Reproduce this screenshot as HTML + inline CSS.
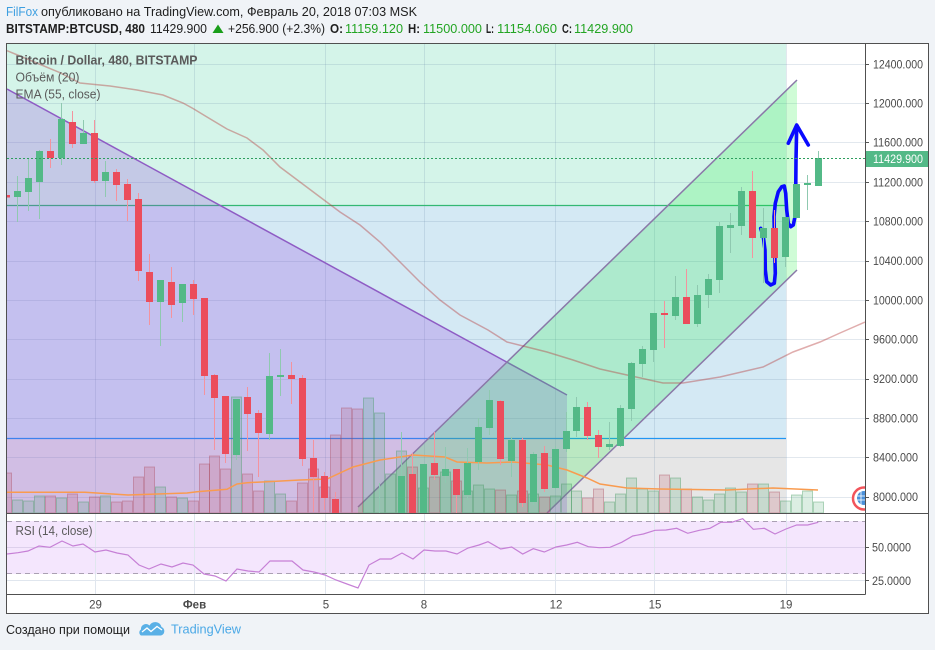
<!DOCTYPE html>
<html><head><meta charset="utf-8"><style>
html,body{margin:0;padding:0;background:#f0f3f7;}
svg{display:block;font-family:"Liberation Sans","Noto Sans CJK JP",sans-serif;}
.g{fill:#53b987}.r{fill:#eb4d5c}.gw{fill:#8fc9b0}.rw{fill:#f4939e}
.vg{fill:rgba(60,160,100,0.18);stroke:rgba(60,150,90,0.38);stroke-width:1}
.vr{fill:rgba(190,70,90,0.18);stroke:rgba(170,70,90,0.38);stroke-width:1}
.pl{font-size:11.5px;fill:#4a4a4a}
.tl{font-size:11.5px;fill:#4a4a4a;text-anchor:middle}
</style></head><body>
<svg width="935" height="650" viewBox="0 0 935 650" xmlns="http://www.w3.org/2000/svg">
<defs>
<clipPath id="mp"><rect x="7" y="44" width="858" height="469"/></clipPath>
<clipPath id="rp"><rect x="7" y="514" width="858" height="80"/></clipPath>
</defs>
<rect width="935" height="650" fill="#f0f3f7"/>
<!-- header -->
<text x="6" y="16" font-size="13" fill="#3d9fe0" textLength="32" lengthAdjust="spacingAndGlyphs">FilFox</text>
<text x="41" y="16" font-size="13" fill="#1e1e1e" textLength="376" lengthAdjust="spacingAndGlyphs">опубликовано на TradingView.com, Февраль 20, 2018 07:03 MSK</text>
<text x="6" y="33" font-size="13" font-weight="bold" fill="#1e1e1e" textLength="139" lengthAdjust="spacingAndGlyphs">BITSTAMP:BTCUSD, 480</text>
<text x="150" y="33" font-size="13" fill="#1e1e1e" textLength="57" lengthAdjust="spacingAndGlyphs">11429.900</text>
<polygon points="212.5,33 223.5,33 218,24.5" fill="#1a9e1a"/>
<text x="228" y="33" font-size="13" fill="#1e1e1e" textLength="97" lengthAdjust="spacingAndGlyphs">+256.900 (+2.3%)</text>
<text x="330" y="33" font-size="13" font-weight="bold" fill="#1e1e1e" textLength="13" lengthAdjust="spacingAndGlyphs">O:</text>
<text x="345" y="33" font-size="13" fill="#23a523" textLength="58" lengthAdjust="spacingAndGlyphs">11159.120</text>
<text x="408" y="33" font-size="13" font-weight="bold" fill="#1e1e1e" textLength="12" lengthAdjust="spacingAndGlyphs">H:</text>
<text x="423" y="33" font-size="13" fill="#23a523" textLength="59" lengthAdjust="spacingAndGlyphs">11500.000</text>
<text x="486" y="33" font-size="13" font-weight="bold" fill="#1e1e1e" textLength="8" lengthAdjust="spacingAndGlyphs">L:</text>
<text x="497" y="33" font-size="13" fill="#23a523" textLength="60" lengthAdjust="spacingAndGlyphs">11154.060</text>
<text x="562" y="33" font-size="13" font-weight="bold" fill="#1e1e1e" textLength="10" lengthAdjust="spacingAndGlyphs">C:</text>
<text x="574" y="33" font-size="13" fill="#23a523" textLength="59" lengthAdjust="spacingAndGlyphs">11429.900</text>

<!-- chart frame -->
<rect x="6.5" y="43.5" width="922" height="570" fill="#ffffff"/>

<g clip-path="url(#mp)">
<rect x="7" y="43" width="779" height="162" fill="#d4f4e9"/>
<rect x="7" y="205" width="779" height="233" fill="#d4e9f4"/>
<rect x="7" y="438" width="779" height="75" fill="#e6e6e6"/>
<!-- grid -->
<g stroke="rgba(110,140,170,0.2)" stroke-width="1">
<line x1="7" y1="64.5" x2="865" y2="64.5"/><line x1="7" y1="103.5" x2="865" y2="103.5"/><line x1="7" y1="142.5" x2="865" y2="142.5"/><line x1="7" y1="182.5" x2="865" y2="182.5"/><line x1="7" y1="221.5" x2="865" y2="221.5"/><line x1="7" y1="261.5" x2="865" y2="261.5"/><line x1="7" y1="300.5" x2="865" y2="300.5"/><line x1="7" y1="339.5" x2="865" y2="339.5"/><line x1="7" y1="379.5" x2="865" y2="379.5"/><line x1="7" y1="418.5" x2="865" y2="418.5"/><line x1="7" y1="457.5" x2="865" y2="457.5"/><line x1="7" y1="497.5" x2="865" y2="497.5"/>
<line x1="95.5" y1="43" x2="95.5" y2="513"/><line x1="194.5" y1="43" x2="194.5" y2="513"/><line x1="325.5" y1="43" x2="325.5" y2="513"/><line x1="424.5" y1="43" x2="424.5" y2="513"/><line x1="555.5" y1="43" x2="555.5" y2="513"/><line x1="654.5" y1="43" x2="654.5" y2="513"/><line x1="786.5" y1="43" x2="786.5" y2="513"/>
</g>
<line x1="7" y1="205.5" x2="786" y2="205.5" stroke="#33b873" stroke-width="1.2"/>
<line x1="7" y1="438.5" x2="786" y2="438.5" stroke="#2196f3" stroke-width="1.2"/>
<!-- triangle -->
<polygon points="7,89 567,395 567,513 7,513" fill="rgba(147,71,224,0.25)"/>
<line x1="7" y1="89" x2="567" y2="395" stroke="#8e5cc4" stroke-width="1.5"/>
<!-- channel -->
<polygon points="358,507 797,80 797,270 547,513 358,513" fill="rgba(30,240,60,0.21)"/>
<line x1="358" y1="507" x2="797" y2="80" stroke="#8a78a8" stroke-width="1.5"/>
<line x1="547" y1="513" x2="797" y2="270" stroke="#8a78a8" stroke-width="1.5"/>

<!-- volume -->
<g>
<rect class="vr" x="1.5" y="473" width="10" height="40"/>
<rect class="vg" x="12.5" y="500" width="10" height="13"/>
<rect class="vg" x="23.5" y="501" width="10" height="12"/>
<rect class="vg" x="34.5" y="496" width="10" height="17"/>
<rect class="vr" x="45.5" y="496" width="10" height="17"/>
<rect class="vg" x="56.5" y="498" width="10" height="15"/>
<rect class="vr" x="67.5" y="494" width="10" height="19"/>
<rect class="vg" x="78.5" y="502" width="10" height="11"/>
<rect class="vr" x="89.5" y="497" width="10" height="16"/>
<rect class="vg" x="100.5" y="496" width="10" height="17"/>
<rect class="vr" x="111.5" y="502" width="10" height="11"/>
<rect class="vr" x="122.5" y="501" width="10" height="12"/>
<rect class="vr" x="133.5" y="477" width="10" height="36"/>
<rect class="vr" x="144.5" y="467" width="10" height="46"/>
<rect class="vg" x="155.5" y="487" width="10" height="26"/>
<rect class="vr" x="166.5" y="497" width="10" height="16"/>
<rect class="vg" x="177.5" y="498" width="10" height="15"/>
<rect class="vr" x="188.5" y="501" width="10" height="12"/>
<rect class="vr" x="199.5" y="464" width="10" height="49"/>
<rect class="vr" x="209.5" y="456" width="10" height="57"/>
<rect class="vr" x="220.5" y="469" width="10" height="44"/>
<rect class="vg" x="231.5" y="397" width="10" height="116"/>
<rect class="vr" x="242.5" y="474" width="10" height="39"/>
<rect class="vr" x="253.5" y="491" width="10" height="22"/>
<rect class="vg" x="264.5" y="481" width="10" height="32"/>
<rect class="vg" x="275.5" y="494" width="10" height="19"/>
<rect class="vr" x="286.5" y="501" width="10" height="12"/>
<rect class="vr" x="297.5" y="483" width="10" height="30"/>
<rect class="vr" x="308.5" y="469" width="10" height="44"/>
<rect class="vr" x="319.5" y="487" width="10" height="26"/>
<rect class="vr" x="330.5" y="435" width="10" height="78"/>
<rect class="vr" x="341.5" y="408" width="10" height="105"/>
<rect class="vr" x="352.5" y="409" width="10" height="104"/>
<rect class="vg" x="363.5" y="398" width="10" height="115"/>
<rect class="vg" x="374.5" y="413" width="10" height="100"/>
<rect class="vg" x="385.5" y="474" width="10" height="39"/>
<rect class="vg" x="396.5" y="451" width="10" height="62"/>
<rect class="vr" x="407.5" y="467" width="10" height="46"/>
<rect class="vg" x="418.5" y="488" width="10" height="25"/>
<rect class="vr" x="429.5" y="477" width="10" height="36"/>
<rect class="vg" x="440.5" y="472" width="10" height="41"/>
<rect class="vr" x="451.5" y="481" width="10" height="32"/>
<rect class="vg" x="462.5" y="491" width="10" height="22"/>
<rect class="vg" x="473.5" y="485" width="10" height="28"/>
<rect class="vg" x="484.5" y="489" width="10" height="24"/>
<rect class="vr" x="495.5" y="490" width="10" height="23"/>
<rect class="vg" x="506.5" y="495" width="10" height="18"/>
<rect class="vr" x="517.5" y="491" width="10" height="22"/>
<rect class="vg" x="528.5" y="494" width="10" height="19"/>
<rect class="vr" x="539.5" y="497" width="10" height="16"/>
<rect class="vg" x="550.5" y="496" width="10" height="17"/>
<rect class="vg" x="561.5" y="484" width="10" height="29"/>
<rect class="vg" x="571.5" y="491" width="10" height="22"/>
<rect class="vr" x="582.5" y="498" width="10" height="15"/>
<rect class="vr" x="593.5" y="489" width="10" height="24"/>
<rect class="vg" x="604.5" y="502" width="10" height="11"/>
<rect class="vg" x="615.5" y="494" width="10" height="19"/>
<rect class="vg" x="626.5" y="478" width="10" height="35"/>
<rect class="vg" x="637.5" y="489" width="10" height="24"/>
<rect class="vg" x="648.5" y="491" width="10" height="22"/>
<rect class="vr" x="659.5" y="475" width="10" height="38"/>
<rect class="vg" x="670.5" y="478" width="10" height="35"/>
<rect class="vr" x="681.5" y="489" width="10" height="24"/>
<rect class="vg" x="692.5" y="497" width="10" height="16"/>
<rect class="vg" x="703.5" y="500" width="10" height="13"/>
<rect class="vg" x="714.5" y="494" width="10" height="19"/>
<rect class="vg" x="725.5" y="488" width="10" height="25"/>
<rect class="vg" x="736.5" y="492" width="10" height="21"/>
<rect class="vr" x="747.5" y="484" width="10" height="29"/>
<rect class="vg" x="758.5" y="484" width="10" height="29"/>
<rect class="vr" x="769.5" y="492" width="10" height="21"/>
<rect class="vg" x="780.5" y="501" width="10" height="12"/>
<rect class="vg" x="791.5" y="495" width="10" height="18"/>
<rect class="vg" x="802.5" y="491" width="10" height="22"/>
<rect class="vg" x="813.5" y="502" width="10" height="11"/>
</g>
<!-- volume MA -->
<polyline fill="none" stroke="#f99b4f" stroke-width="1.5" points="7,492.3 85,492.3 128,495 187,493 197,491.7 227,489.3 237,484 247,482.7 267,481.7 300,480 327,479 353,467 380,460 413,455 445,457 457,462 487,463 513,462 547,465 567,470 587,478 600,484 627,488 660,489 727,490 773,488 818,490"/>
<!-- EMA -->
<polyline fill="none" stroke="rgba(180,60,60,0.42)" stroke-width="1.5" points="7,50.7 20,56 60,72.7 80,83 110,86 137,90 163,95 183,103 193,108.5 207,117 227,129 247,138 263,150 280,167 300,182 320,197 340,212 360,225 380,242 400,262 420,282 440,300 460,315 488,330 507,342 527,347 547,352 573,360 600,369 627,375 663,383 683,383 720,377 763,367 793,352 820,342 840,333 865,322"/>

<!-- blue hand drawing -->
<g fill="none" stroke="#0a0aff" stroke-width="3.6" stroke-linecap="round" stroke-linejoin="round">
<path d="M760.7,228.3 L763.3,236.7 L765,250 L765.3,270 L766.7,281.7 L770.7,285 L774.3,283.3 L775.3,273.3 L774.7,250 L774,216.7 L775.3,203.3 L778.3,191.7 L781.7,186.7 L784.3,186 L785.7,193.3 L786.7,210 L788.3,223.3 L790.7,226.7 L793.3,225 L795,216.7 L795.7,193.3 L796,160 L796.7,126.7"/>
<path d="M788.3,143.3 L796.7,125 L808.3,145"/>
</g>

<!-- candles -->
<g>
<rect class="r" x="3" y="195" width="7" height="2.5"/>
<rect class="gw" x="17" y="176" width="1" height="46"/><rect class="g" x="14" y="191" width="7" height="6"/>
<rect class="gw" x="28" y="159" width="1" height="52"/><rect class="g" x="25" y="178" width="7" height="14"/>
<rect class="gw" x="39" y="150" width="1" height="69"/><rect class="g" x="36" y="151" width="7" height="31"/>
<rect class="rw" x="50" y="139" width="1" height="29"/><rect class="r" x="47" y="151" width="7" height="7"/>
<rect class="gw" x="61" y="103" width="1" height="62"/><rect class="g" x="58" y="119" width="7" height="39"/>
<rect class="rw" x="72" y="111" width="1" height="37"/><rect class="r" x="69" y="122" width="7" height="22"/>
<rect class="gw" x="83" y="120" width="1" height="24"/><rect class="g" x="80" y="133" width="7" height="11"/>
<rect class="rw" x="94" y="120" width="1" height="63"/><rect class="r" x="91" y="133" width="7" height="48"/>
<rect class="gw" x="105" y="161" width="1" height="36"/><rect class="g" x="102" y="172" width="7" height="9"/>
<rect class="rw" x="116" y="169" width="1" height="32"/><rect class="r" x="113" y="172" width="7" height="13"/>
<rect class="rw" x="127" y="179" width="1" height="42"/><rect class="r" x="124" y="184" width="7" height="16"/>
<rect class="rw" x="138" y="193" width="1" height="88"/><rect class="r" x="135" y="199" width="7" height="72"/>
<rect class="rw" x="149" y="254" width="1" height="71"/><rect class="r" x="146" y="272" width="7" height="30"/>
<rect class="gw" x="160" y="280" width="1" height="66"/><rect class="g" x="157" y="280" width="7" height="22"/>
<rect class="rw" x="171" y="267" width="1" height="51"/><rect class="r" x="168" y="282" width="7" height="23"/>
<rect class="gw" x="182" y="284" width="1" height="38"/><rect class="g" x="179" y="284" width="7" height="19"/>
<rect class="rw" x="193" y="280" width="1" height="35"/><rect class="r" x="190" y="284" width="7" height="15"/>
<rect class="rw" x="204" y="298" width="1" height="97"/><rect class="r" x="201" y="298" width="7" height="78"/>
<rect class="rw" x="214" y="374" width="1" height="76"/><rect class="r" x="211" y="375" width="7" height="23"/>
<rect class="rw" x="225" y="396" width="1" height="67"/><rect class="r" x="222" y="396" width="7" height="58"/>
<rect class="gw" x="236" y="399" width="1" height="61"/><rect class="g" x="233" y="399" width="7" height="56"/>
<rect class="rw" x="247" y="387" width="1" height="64"/><rect class="r" x="244" y="397" width="7" height="17"/>
<rect class="rw" x="258" y="410" width="1" height="67"/><rect class="r" x="255" y="413" width="7" height="20"/>
<rect class="gw" x="269" y="353" width="1" height="87"/><rect class="g" x="266" y="376" width="7" height="58"/>
<rect class="gw" x="280" y="349" width="1" height="47"/><rect class="g" x="277" y="375" width="7" height="2"/>
<rect class="rw" x="291" y="362" width="1" height="42"/><rect class="r" x="288" y="375" width="7" height="4"/>
<rect class="rw" x="302" y="375" width="1" height="91"/><rect class="r" x="299" y="378" width="7" height="81"/>
<rect class="rw" x="313" y="440" width="1" height="72"/><rect class="r" x="310" y="458" width="7" height="19"/>
<rect class="rw" x="324" y="472" width="1" height="38"/><rect class="r" x="321" y="476" width="7" height="22"/>
<rect class="rw" x="335" y="492" width="1" height="21"/><rect class="r" x="332" y="499" width="7" height="14"/>
<rect class="gw" x="379" y="483" width="1" height="30"/>
<rect class="gw" x="401" y="432" width="1" height="81"/><rect class="g" x="398" y="476" width="7" height="37"/>
<rect class="rw" x="412" y="453" width="1" height="60"/><rect class="r" x="409" y="474" width="7" height="39"/>
<rect class="g" x="420" y="464" width="7" height="49"/>
<rect class="rw" x="434" y="432" width="1" height="48"/><rect class="r" x="431" y="463" width="7" height="12"/>
<rect class="gw" x="445" y="447" width="1" height="36"/><rect class="g" x="442" y="469" width="7" height="7"/>
<rect class="rw" x="456" y="469" width="1" height="44"/><rect class="r" x="453" y="469" width="7" height="26"/>
<rect class="gw" x="467" y="448" width="1" height="52"/><rect class="g" x="464" y="463" width="7" height="32"/>
<rect class="gw" x="478" y="418" width="1" height="52"/><rect class="g" x="475" y="427" width="7" height="35"/>
<rect class="gw" x="489" y="390" width="1" height="45"/><rect class="g" x="486" y="400" width="7" height="28"/>
<rect class="rw" x="500" y="400" width="1" height="65"/><rect class="r" x="497" y="401" width="7" height="58"/>
<rect class="gw" x="511" y="437" width="1" height="40"/><rect class="g" x="508" y="440" width="7" height="21"/>
<rect class="rw" x="522" y="438" width="1" height="69"/><rect class="r" x="519" y="440" width="7" height="63"/>
<rect class="gw" x="533" y="452" width="1" height="53"/><rect class="g" x="530" y="454" width="7" height="48"/>
<rect class="rw" x="544" y="446" width="1" height="46"/><rect class="r" x="541" y="453" width="7" height="36"/>
<rect class="gw" x="555" y="446" width="1" height="44"/><rect class="g" x="552" y="449" width="7" height="39"/>
<rect class="gw" x="566" y="412" width="1" height="40"/><rect class="g" x="563" y="431" width="7" height="18"/>
<rect class="gw" x="576" y="397" width="1" height="40"/><rect class="g" x="573" y="407" width="7" height="24"/>
<rect class="rw" x="587" y="402" width="1" height="38"/><rect class="r" x="584" y="407" width="7" height="29"/>
<rect class="rw" x="598" y="430" width="1" height="28"/><rect class="r" x="595" y="435" width="7" height="12"/>
<rect class="gw" x="609" y="422" width="1" height="28"/><rect class="g" x="606" y="444" width="7" height="3"/>
<rect class="gw" x="620" y="405" width="1" height="42"/><rect class="g" x="617" y="408" width="7" height="38"/>
<rect class="gw" x="631" y="362" width="1" height="59"/><rect class="g" x="628" y="363" width="7" height="46"/>
<rect class="gw" x="642" y="346" width="1" height="31"/><rect class="g" x="639" y="349" width="7" height="15"/>
<rect class="gw" x="653" y="313" width="1" height="49"/><rect class="g" x="650" y="313" width="7" height="37"/>
<rect class="rw" x="664" y="301" width="1" height="47"/><rect class="r" x="661" y="313" width="7" height="2"/>
<rect class="gw" x="675" y="276" width="1" height="44"/><rect class="g" x="672" y="297" width="7" height="19"/>
<rect class="rw" x="686" y="269" width="1" height="55"/><rect class="r" x="683" y="297" width="7" height="27"/>
<rect class="gw" x="697" y="285" width="1" height="42"/><rect class="g" x="694" y="295" width="7" height="29"/>
<rect class="gw" x="708" y="274" width="1" height="34"/><rect class="g" x="705" y="279" width="7" height="16"/>
<rect class="gw" x="719" y="222" width="1" height="71"/><rect class="g" x="716" y="226" width="7" height="54"/>
<rect class="gw" x="730" y="213" width="1" height="40"/><rect class="g" x="727" y="225" width="7" height="3"/>
<rect class="gw" x="741" y="187" width="1" height="48"/><rect class="g" x="738" y="191" width="7" height="35"/>
<rect class="rw" x="752" y="171" width="1" height="87"/><rect class="r" x="749" y="191" width="7" height="47"/>
<rect class="gw" x="763" y="208" width="1" height="75"/><rect class="g" x="760" y="228" width="7" height="10"/>
<rect class="rw" x="774" y="210" width="1" height="53"/><rect class="r" x="771" y="228" width="7" height="30"/>
<rect class="gw" x="785" y="217" width="1" height="50"/><rect class="g" x="782" y="217" width="7" height="40"/>
<rect class="g" x="793" y="184" width="7" height="34"/>
<rect class="gw" x="807" y="175" width="1" height="35"/><rect class="g" x="804" y="183" width="7" height="2"/>
<rect class="gw" x="818" y="151" width="1" height="35"/><rect class="g" x="815" y="158" width="7" height="28"/>
</g>

<!-- current price line -->
<line x1="7" y1="158.5" x2="865" y2="158.5" stroke="#2e9e5e" stroke-width="1" stroke-dasharray="2,2"/>
<!-- globe icon -->
<circle cx="864" cy="498.5" r="11" fill="#ffffff" stroke="#f2545b" stroke-width="2.5"/>
<circle cx="864" cy="498" r="7" fill="#4a90d9"/>
<g stroke="#ffffff" stroke-width="0.8"><line x1="857" y1="496" x2="865" y2="496"/><line x1="857" y1="500" x2="865" y2="500"/><line x1="861" y1="491" x2="861" y2="505"/></g>
</g>

<!-- legend -->
<text x="15.5" y="64.5" font-size="12.5" font-weight="bold" fill="#5a5a5a" textLength="182" lengthAdjust="spacingAndGlyphs">Bitcoin / Dollar, 480, BITSTAMP</text>
<text x="15.5" y="81.5" font-size="12.5" fill="#5a5a5a" textLength="64" lengthAdjust="spacingAndGlyphs">Объём (20)</text>
<text x="15.5" y="98.5" font-size="12.5" fill="#5a5a5a" textLength="85" lengthAdjust="spacingAndGlyphs">EMA (55, close)</text>

<!-- RSI pane -->
<g clip-path="url(#rp)">
<rect x="7" y="521" width="858" height="53" fill="#f4e6fd"/>
<g stroke="#e0e6ee" stroke-width="1">
<line x1="7" y1="580.5" x2="865" y2="580.5"/>
<line x1="95.5" y1="514" x2="95.5" y2="594"/><line x1="194.5" y1="514" x2="194.5" y2="594"/><line x1="325.5" y1="514" x2="325.5" y2="594"/><line x1="424.5" y1="514" x2="424.5" y2="594"/><line x1="555.5" y1="514" x2="555.5" y2="594"/><line x1="654.5" y1="514" x2="654.5" y2="594"/><line x1="786.5" y1="514" x2="786.5" y2="594"/>
</g>
<line x1="7" y1="547.5" x2="865" y2="547.5" stroke="#ddd0ec" stroke-width="1"/>
<line x1="7" y1="521.5" x2="865" y2="521.5" stroke="#aaa0b3" stroke-width="1" stroke-dasharray="5,4"/>
<line x1="7" y1="573.5" x2="865" y2="573.5" stroke="#aaa0b3" stroke-width="1" stroke-dasharray="5,4"/>
<polyline fill="none" stroke="#c680d6" stroke-width="1.2" points="7,554 18,552.7 28,551 39,546 50,547.3 62,541 73,546 83,544 95,552 106,550 117,553 128,555 139,565 149,569 161,564 172,567 183,563 193,565 204,574 215,576 226,581 237,569 248,571 259,572 270,561 281,561 292,561 303,570 314,572 325,575 336,580 347,584 358,588 369,565 380,559 391,559 402,553 413,559 424,550 435,551 446,551 457,554 468,548 479,545 488,541.7 500.7,549 511.7,547 522.7,554 533.3,548.7 544.3,552 556,547 566.7,545 577.3,542.3 588.3,546.7 599.3,547.7 610,547.3 621.7,542.3 632.7,536 643.3,534 655,530.3 666,530 676.7,528.3 687.7,533.3 699.3,530.3 710,528.3 720.7,522.3 731.7,522.3 742.7,518.7 753.3,529.3 764.3,528.3 775,534 786,529 796.7,525 807.7,525 818.3,522.3"/>
</g>
<text x="15.5" y="535" font-size="12.5" fill="#5a5a5a" textLength="77" lengthAdjust="spacingAndGlyphs">RSI (14, close)</text>

<!-- price axis -->
<g stroke="#555" stroke-width="1">
<line x1="865" y1="64.5" x2="869" y2="64.5"/><line x1="865" y1="103.5" x2="869" y2="103.5"/><line x1="865" y1="142.5" x2="869" y2="142.5"/><line x1="865" y1="182.5" x2="869" y2="182.5"/><line x1="865" y1="221.5" x2="869" y2="221.5"/><line x1="865" y1="261.5" x2="869" y2="261.5"/><line x1="865" y1="300.5" x2="869" y2="300.5"/><line x1="865" y1="339.5" x2="869" y2="339.5"/><line x1="865" y1="379.5" x2="869" y2="379.5"/><line x1="865" y1="418.5" x2="869" y2="418.5"/><line x1="865" y1="457.5" x2="869" y2="457.5"/><line x1="865" y1="497.5" x2="869" y2="497.5"/>
<line x1="865" y1="547.5" x2="869" y2="547.5"/><line x1="865" y1="580.5" x2="869" y2="580.5"/>
</g>
<g class="pl">
<text x="873" y="68.5" textLength="50" lengthAdjust="spacingAndGlyphs">12400.000</text>
<text x="873" y="107.5" textLength="50" lengthAdjust="spacingAndGlyphs">12000.000</text>
<text x="873" y="146.5" textLength="50" lengthAdjust="spacingAndGlyphs">11600.000</text>
<text x="873" y="186.5" textLength="50" lengthAdjust="spacingAndGlyphs">11200.000</text>
<text x="873" y="225.5" textLength="50" lengthAdjust="spacingAndGlyphs">10800.000</text>
<text x="873" y="265" textLength="50" lengthAdjust="spacingAndGlyphs">10400.000</text>
<text x="873" y="304.5" textLength="50" lengthAdjust="spacingAndGlyphs">10000.000</text>
<text x="873" y="343.5" textLength="45" lengthAdjust="spacingAndGlyphs">9600.000</text>
<text x="873" y="383" textLength="45" lengthAdjust="spacingAndGlyphs">9200.000</text>
<text x="873" y="422.5" textLength="45" lengthAdjust="spacingAndGlyphs">8800.000</text>
<text x="873" y="461.5" textLength="45" lengthAdjust="spacingAndGlyphs">8400.000</text>
<text x="873" y="501" textLength="45" lengthAdjust="spacingAndGlyphs">8000.000</text>
<text x="872" y="551.5" textLength="39" lengthAdjust="spacingAndGlyphs">50.0000</text>
<text x="872" y="585" textLength="39" lengthAdjust="spacingAndGlyphs">25.0000</text>
</g>
<rect x="865.5" y="151" width="62.5" height="16" fill="#53b987"/>
<text x="873" y="163" font-size="11.5" fill="#ffffff" textLength="50" lengthAdjust="spacingAndGlyphs">11429.900</text>

<!-- time axis -->
<text class="tl" x="95.5" y="608.5">29</text>
<text class="tl" x="194.5" y="608.5" font-weight="bold">Фев</text>
<text class="tl" x="326" y="608.5">5</text>
<text class="tl" x="424" y="608.5">8</text>
<text class="tl" x="556" y="608.5">12</text>
<text class="tl" x="655" y="608.5">15</text>
<text class="tl" x="786" y="608.5">19</text>

<!-- frame lines -->
<g stroke="#505050" stroke-width="1" fill="none">
<rect x="6.5" y="43.5" width="922" height="570"/>
<line x1="865.5" y1="43.5" x2="865.5" y2="594.5"/>
<line x1="6.5" y1="513.5" x2="928.5" y2="513.5"/>
<line x1="6.5" y1="594.5" x2="865.5" y2="594.5"/>
</g>

<!-- footer -->
<text x="6" y="634" font-size="13" fill="#222222" textLength="124" lengthAdjust="spacingAndGlyphs">Создано при помощи</text>
<path d="M141,635.5 L161,635.5 A4.5,4.5 0 0 0 161.5,627 A6.5,6.5 0 0 0 149.5,625.5 A5,5 0 0 0 141,629.5 A3.5,3.5 0 0 0 141,635.5 Z" fill="#5ab0e6"/>
<polyline points="142,632 147,628 151,631.5 157,626.5 162,630" fill="none" stroke="#ffffff" stroke-width="1.3"/>
<text x="171" y="633.5" font-size="13" fill="#4aa8e6" textLength="70" lengthAdjust="spacingAndGlyphs">TradingView</text>
</svg>
</body></html>
